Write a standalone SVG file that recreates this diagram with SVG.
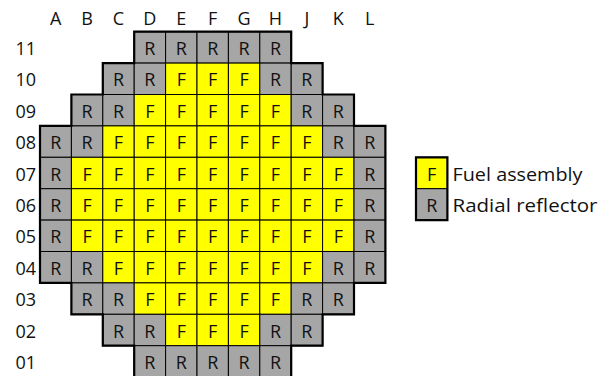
<svg xmlns="http://www.w3.org/2000/svg" width="600" height="376" viewBox="0 0 600 376">
  <style>
    text { font-family: "Open Sans", "Noto Sans", "Liberation Sans", sans-serif; font-size: 18px; fill: #111; }
    .lbl text, .cell text { text-anchor: middle; }
    .rowlbl text { text-anchor: end; }
    .cell rect { stroke: #000; stroke-width: 1; }
    .F rect { fill: #ffff00; }
    .R rect { fill: #a6a6a6; }
    .outline { fill: none; stroke: #000; stroke-width: 2.2; stroke-linejoin: miter; }
    .legend-text { text-anchor: start; font-size: 19px; }
  </style>

  <!-- column letters -->
  <g class="lbl" id="col-labels">
    <text x="55.7" y="25">A</text><text x="87.1" y="25">B</text><text x="118.5" y="25">C</text>
    <text x="149.9" y="25">D</text><text x="181.3" y="25">E</text><text x="212.7" y="25">F</text>
    <text x="244.1" y="25">G</text><text x="275.5" y="25">H</text><text x="306.9" y="25">J</text>
    <text x="338.3" y="25">K</text><text x="369.7" y="25">L</text>
  </g>

  <!-- row numbers -->
  <g class="rowlbl" id="row-labels">
    <text x="36" y="55">11</text><text x="36" y="86.4">10</text><text x="36" y="117.8">09</text>
    <text x="36" y="149.2">08</text><text x="36" y="180.6">07</text><text x="36" y="212">06</text>
    <text x="36" y="243.4">05</text><text x="36" y="274.8">04</text><text x="36" y="306.2">03</text>
    <text x="36" y="337.6">02</text><text x="36" y="369">01</text>
  </g>

  <!-- core map cells -->
  <g id="core">
    <!-- row 11 -->
    <g id="D11" class="cell R" transform="translate(134.2 31.7)"><rect width="31.4" height="31.4"/><text x="15.7" y="23.3">R</text></g>
    <g id="E11" class="cell R" transform="translate(165.6 31.7)"><rect width="31.4" height="31.4"/><text x="15.7" y="23.3">R</text></g>
    <g id="F11" class="cell R" transform="translate(197 31.7)"><rect width="31.4" height="31.4"/><text x="15.7" y="23.3">R</text></g>
    <g id="G11" class="cell R" transform="translate(228.4 31.7)"><rect width="31.4" height="31.4"/><text x="15.7" y="23.3">R</text></g>
    <g id="H11" class="cell R" transform="translate(259.8 31.7)"><rect width="31.4" height="31.4"/><text x="15.7" y="23.3">R</text></g>
    <!-- row 10 -->
    <g id="C10" class="cell R" transform="translate(102.8 63.1)"><rect width="31.4" height="31.4"/><text x="15.7" y="23.3">R</text></g>
    <g id="D10" class="cell R" transform="translate(134.2 63.1)"><rect width="31.4" height="31.4"/><text x="15.7" y="23.3">R</text></g>
    <g id="E10" class="cell F" transform="translate(165.6 63.1)"><rect width="31.4" height="31.4"/><text x="15.7" y="23.3">F</text></g>
    <g id="F10" class="cell F" transform="translate(197 63.1)"><rect width="31.4" height="31.4"/><text x="15.7" y="23.3">F</text></g>
    <g id="G10" class="cell F" transform="translate(228.4 63.1)"><rect width="31.4" height="31.4"/><text x="15.7" y="23.3">F</text></g>
    <g id="H10" class="cell R" transform="translate(259.8 63.1)"><rect width="31.4" height="31.4"/><text x="15.7" y="23.3">R</text></g>
    <g id="J10" class="cell R" transform="translate(291.2 63.1)"><rect width="31.4" height="31.4"/><text x="15.7" y="23.3">R</text></g>
    <!-- row 09 -->
    <g id="B09" class="cell R" transform="translate(71.4 94.5)"><rect width="31.4" height="31.4"/><text x="15.7" y="23.3">R</text></g>
    <g id="C09" class="cell R" transform="translate(102.8 94.5)"><rect width="31.4" height="31.4"/><text x="15.7" y="23.3">R</text></g>
    <g id="D09" class="cell F" transform="translate(134.2 94.5)"><rect width="31.4" height="31.4"/><text x="15.7" y="23.3">F</text></g>
    <g id="E09" class="cell F" transform="translate(165.6 94.5)"><rect width="31.4" height="31.4"/><text x="15.7" y="23.3">F</text></g>
    <g id="F09" class="cell F" transform="translate(197 94.5)"><rect width="31.4" height="31.4"/><text x="15.7" y="23.3">F</text></g>
    <g id="G09" class="cell F" transform="translate(228.4 94.5)"><rect width="31.4" height="31.4"/><text x="15.7" y="23.3">F</text></g>
    <g id="H09" class="cell F" transform="translate(259.8 94.5)"><rect width="31.4" height="31.4"/><text x="15.7" y="23.3">F</text></g>
    <g id="J09" class="cell R" transform="translate(291.2 94.5)"><rect width="31.4" height="31.4"/><text x="15.7" y="23.3">R</text></g>
    <g id="K09" class="cell R" transform="translate(322.6 94.5)"><rect width="31.4" height="31.4"/><text x="15.7" y="23.3">R</text></g>
    <!-- row 08 -->
    <g id="A08" class="cell R" transform="translate(40 125.9)"><rect width="31.4" height="31.4"/><text x="15.7" y="23.3">R</text></g>
    <g id="B08" class="cell R" transform="translate(71.4 125.9)"><rect width="31.4" height="31.4"/><text x="15.7" y="23.3">R</text></g>
    <g id="C08" class="cell F" transform="translate(102.8 125.9)"><rect width="31.4" height="31.4"/><text x="15.7" y="23.3">F</text></g>
    <g id="D08" class="cell F" transform="translate(134.2 125.9)"><rect width="31.4" height="31.4"/><text x="15.7" y="23.3">F</text></g>
    <g id="E08" class="cell F" transform="translate(165.6 125.9)"><rect width="31.4" height="31.4"/><text x="15.7" y="23.3">F</text></g>
    <g id="F08" class="cell F" transform="translate(197 125.9)"><rect width="31.4" height="31.4"/><text x="15.7" y="23.3">F</text></g>
    <g id="G08" class="cell F" transform="translate(228.4 125.9)"><rect width="31.4" height="31.4"/><text x="15.7" y="23.3">F</text></g>
    <g id="H08" class="cell F" transform="translate(259.8 125.9)"><rect width="31.4" height="31.4"/><text x="15.7" y="23.3">F</text></g>
    <g id="J08" class="cell F" transform="translate(291.2 125.9)"><rect width="31.4" height="31.4"/><text x="15.7" y="23.3">F</text></g>
    <g id="K08" class="cell R" transform="translate(322.6 125.9)"><rect width="31.4" height="31.4"/><text x="15.7" y="23.3">R</text></g>
    <g id="L08" class="cell R" transform="translate(354 125.9)"><rect width="31.4" height="31.4"/><text x="15.7" y="23.3">R</text></g>
    <!-- row 07 -->
    <g id="A07" class="cell R" transform="translate(40 157.3)"><rect width="31.4" height="31.4"/><text x="15.7" y="23.3">R</text></g>
    <g id="B07" class="cell F" transform="translate(71.4 157.3)"><rect width="31.4" height="31.4"/><text x="15.7" y="23.3">F</text></g>
    <g id="C07" class="cell F" transform="translate(102.8 157.3)"><rect width="31.4" height="31.4"/><text x="15.7" y="23.3">F</text></g>
    <g id="D07" class="cell F" transform="translate(134.2 157.3)"><rect width="31.4" height="31.4"/><text x="15.7" y="23.3">F</text></g>
    <g id="E07" class="cell F" transform="translate(165.6 157.3)"><rect width="31.4" height="31.4"/><text x="15.7" y="23.3">F</text></g>
    <g id="F07" class="cell F" transform="translate(197 157.3)"><rect width="31.4" height="31.4"/><text x="15.7" y="23.3">F</text></g>
    <g id="G07" class="cell F" transform="translate(228.4 157.3)"><rect width="31.4" height="31.4"/><text x="15.7" y="23.3">F</text></g>
    <g id="H07" class="cell F" transform="translate(259.8 157.3)"><rect width="31.4" height="31.4"/><text x="15.7" y="23.3">F</text></g>
    <g id="J07" class="cell F" transform="translate(291.2 157.3)"><rect width="31.4" height="31.4"/><text x="15.7" y="23.3">F</text></g>
    <g id="K07" class="cell F" transform="translate(322.6 157.3)"><rect width="31.4" height="31.4"/><text x="15.7" y="23.3">F</text></g>
    <g id="L07" class="cell R" transform="translate(354 157.3)"><rect width="31.4" height="31.4"/><text x="15.7" y="23.3">R</text></g>
    <!-- row 06 -->
    <g id="A06" class="cell R" transform="translate(40 188.7)"><rect width="31.4" height="31.4"/><text x="15.7" y="23.3">R</text></g>
    <g id="B06" class="cell F" transform="translate(71.4 188.7)"><rect width="31.4" height="31.4"/><text x="15.7" y="23.3">F</text></g>
    <g id="C06" class="cell F" transform="translate(102.8 188.7)"><rect width="31.4" height="31.4"/><text x="15.7" y="23.3">F</text></g>
    <g id="D06" class="cell F" transform="translate(134.2 188.7)"><rect width="31.4" height="31.4"/><text x="15.7" y="23.3">F</text></g>
    <g id="E06" class="cell F" transform="translate(165.6 188.7)"><rect width="31.4" height="31.4"/><text x="15.7" y="23.3">F</text></g>
    <g id="F06" class="cell F" transform="translate(197 188.7)"><rect width="31.4" height="31.4"/><text x="15.7" y="23.3">F</text></g>
    <g id="G06" class="cell F" transform="translate(228.4 188.7)"><rect width="31.4" height="31.4"/><text x="15.7" y="23.3">F</text></g>
    <g id="H06" class="cell F" transform="translate(259.8 188.7)"><rect width="31.4" height="31.4"/><text x="15.7" y="23.3">F</text></g>
    <g id="J06" class="cell F" transform="translate(291.2 188.7)"><rect width="31.4" height="31.4"/><text x="15.7" y="23.3">F</text></g>
    <g id="K06" class="cell F" transform="translate(322.6 188.7)"><rect width="31.4" height="31.4"/><text x="15.7" y="23.3">F</text></g>
    <g id="L06" class="cell R" transform="translate(354 188.7)"><rect width="31.4" height="31.4"/><text x="15.7" y="23.3">R</text></g>
    <!-- row 05 -->
    <g id="A05" class="cell R" transform="translate(40 220.1)"><rect width="31.4" height="31.4"/><text x="15.7" y="23.3">R</text></g>
    <g id="B05" class="cell F" transform="translate(71.4 220.1)"><rect width="31.4" height="31.4"/><text x="15.7" y="23.3">F</text></g>
    <g id="C05" class="cell F" transform="translate(102.8 220.1)"><rect width="31.4" height="31.4"/><text x="15.7" y="23.3">F</text></g>
    <g id="D05" class="cell F" transform="translate(134.2 220.1)"><rect width="31.4" height="31.4"/><text x="15.7" y="23.3">F</text></g>
    <g id="E05" class="cell F" transform="translate(165.6 220.1)"><rect width="31.4" height="31.4"/><text x="15.7" y="23.3">F</text></g>
    <g id="F05" class="cell F" transform="translate(197 220.1)"><rect width="31.4" height="31.4"/><text x="15.7" y="23.3">F</text></g>
    <g id="G05" class="cell F" transform="translate(228.4 220.1)"><rect width="31.4" height="31.4"/><text x="15.7" y="23.3">F</text></g>
    <g id="H05" class="cell F" transform="translate(259.8 220.1)"><rect width="31.4" height="31.4"/><text x="15.7" y="23.3">F</text></g>
    <g id="J05" class="cell F" transform="translate(291.2 220.1)"><rect width="31.4" height="31.4"/><text x="15.7" y="23.3">F</text></g>
    <g id="K05" class="cell F" transform="translate(322.6 220.1)"><rect width="31.4" height="31.4"/><text x="15.7" y="23.3">F</text></g>
    <g id="L05" class="cell R" transform="translate(354 220.1)"><rect width="31.4" height="31.4"/><text x="15.7" y="23.3">R</text></g>
    <!-- row 04 -->
    <g id="A04" class="cell R" transform="translate(40 251.5)"><rect width="31.4" height="31.4"/><text x="15.7" y="23.3">R</text></g>
    <g id="B04" class="cell R" transform="translate(71.4 251.5)"><rect width="31.4" height="31.4"/><text x="15.7" y="23.3">R</text></g>
    <g id="C04" class="cell F" transform="translate(102.8 251.5)"><rect width="31.4" height="31.4"/><text x="15.7" y="23.3">F</text></g>
    <g id="D04" class="cell F" transform="translate(134.2 251.5)"><rect width="31.4" height="31.4"/><text x="15.7" y="23.3">F</text></g>
    <g id="E04" class="cell F" transform="translate(165.6 251.5)"><rect width="31.4" height="31.4"/><text x="15.7" y="23.3">F</text></g>
    <g id="F04" class="cell F" transform="translate(197 251.5)"><rect width="31.4" height="31.4"/><text x="15.7" y="23.3">F</text></g>
    <g id="G04" class="cell F" transform="translate(228.4 251.5)"><rect width="31.4" height="31.4"/><text x="15.7" y="23.3">F</text></g>
    <g id="H04" class="cell F" transform="translate(259.8 251.5)"><rect width="31.4" height="31.4"/><text x="15.7" y="23.3">F</text></g>
    <g id="J04" class="cell F" transform="translate(291.2 251.5)"><rect width="31.4" height="31.4"/><text x="15.7" y="23.3">F</text></g>
    <g id="K04" class="cell R" transform="translate(322.6 251.5)"><rect width="31.4" height="31.4"/><text x="15.7" y="23.3">R</text></g>
    <g id="L04" class="cell R" transform="translate(354 251.5)"><rect width="31.4" height="31.4"/><text x="15.7" y="23.3">R</text></g>
    <!-- row 03 -->
    <g id="B03" class="cell R" transform="translate(71.4 282.9)"><rect width="31.4" height="31.4"/><text x="15.7" y="23.3">R</text></g>
    <g id="C03" class="cell R" transform="translate(102.8 282.9)"><rect width="31.4" height="31.4"/><text x="15.7" y="23.3">R</text></g>
    <g id="D03" class="cell F" transform="translate(134.2 282.9)"><rect width="31.4" height="31.4"/><text x="15.7" y="23.3">F</text></g>
    <g id="E03" class="cell F" transform="translate(165.6 282.9)"><rect width="31.4" height="31.4"/><text x="15.7" y="23.3">F</text></g>
    <g id="F03" class="cell F" transform="translate(197 282.9)"><rect width="31.4" height="31.4"/><text x="15.7" y="23.3">F</text></g>
    <g id="G03" class="cell F" transform="translate(228.4 282.9)"><rect width="31.4" height="31.4"/><text x="15.7" y="23.3">F</text></g>
    <g id="H03" class="cell F" transform="translate(259.8 282.9)"><rect width="31.4" height="31.4"/><text x="15.7" y="23.3">F</text></g>
    <g id="J03" class="cell R" transform="translate(291.2 282.9)"><rect width="31.4" height="31.4"/><text x="15.7" y="23.3">R</text></g>
    <g id="K03" class="cell R" transform="translate(322.6 282.9)"><rect width="31.4" height="31.4"/><text x="15.7" y="23.3">R</text></g>
    <!-- row 02 -->
    <g id="C02" class="cell R" transform="translate(102.8 314.3)"><rect width="31.4" height="31.4"/><text x="15.7" y="23.3">R</text></g>
    <g id="D02" class="cell R" transform="translate(134.2 314.3)"><rect width="31.4" height="31.4"/><text x="15.7" y="23.3">R</text></g>
    <g id="E02" class="cell F" transform="translate(165.6 314.3)"><rect width="31.4" height="31.4"/><text x="15.7" y="23.3">F</text></g>
    <g id="F02" class="cell F" transform="translate(197 314.3)"><rect width="31.4" height="31.4"/><text x="15.7" y="23.3">F</text></g>
    <g id="G02" class="cell F" transform="translate(228.4 314.3)"><rect width="31.4" height="31.4"/><text x="15.7" y="23.3">F</text></g>
    <g id="H02" class="cell R" transform="translate(259.8 314.3)"><rect width="31.4" height="31.4"/><text x="15.7" y="23.3">R</text></g>
    <g id="J02" class="cell R" transform="translate(291.2 314.3)"><rect width="31.4" height="31.4"/><text x="15.7" y="23.3">R</text></g>
    <!-- row 01 -->
    <g id="D01" class="cell R" transform="translate(134.2 345.7)"><rect width="31.4" height="31.4"/><text x="15.7" y="23.3">R</text></g>
    <g id="E01" class="cell R" transform="translate(165.6 345.7)"><rect width="31.4" height="31.4"/><text x="15.7" y="23.3">R</text></g>
    <g id="F01" class="cell R" transform="translate(197 345.7)"><rect width="31.4" height="31.4"/><text x="15.7" y="23.3">R</text></g>
    <g id="G01" class="cell R" transform="translate(228.4 345.7)"><rect width="31.4" height="31.4"/><text x="15.7" y="23.3">R</text></g>
    <g id="H01" class="cell R" transform="translate(259.8 345.7)"><rect width="31.4" height="31.4"/><text x="15.7" y="23.3">R</text></g>
  </g>

  <!-- heavy outline around the core -->
  <path class="outline" d="M134.2 31.7 H291.2 V63.1 H322.6 V94.5 H354 V125.9 H385.4 V282.9 H354 V314.3 H322.6 V345.7 H291.2 V377.1 H134.2 V345.7 H102.8 V314.3 H71.4 V282.9 H40 V125.9 H71.4 V94.5 H102.8 V63.1 H134.2 Z"/>

  <!-- legend -->
  <g id="legend-fuel">
    <g class="cell F" transform="translate(416 157.3)"><rect width="31.4" height="31.4"/><text x="15.7" y="23.3">F</text></g>
    <text class="legend-text" x="452.5" y="180.6" textLength="130" lengthAdjust="spacingAndGlyphs">Fuel assembly</text>
  </g>
  <g id="legend-reflector">
    <g class="cell R" transform="translate(416 188.7)"><rect width="31.4" height="31.4"/><text x="15.7" y="23.3">R</text></g>
    <text class="legend-text" x="452.5" y="212" textLength="145" lengthAdjust="spacingAndGlyphs">Radial reflector</text>
  </g>
  <path class="outline" d="M416 157.3 H447.4 V220.1 H416 Z"/>
</svg>
